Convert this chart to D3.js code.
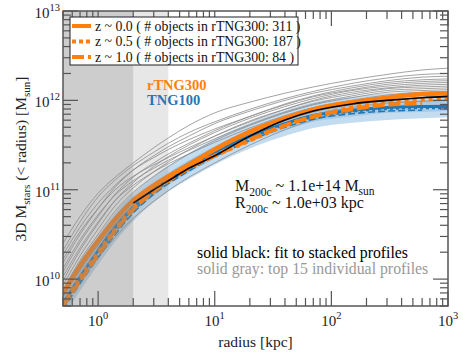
<!DOCTYPE html>
<html>
<head>
<meta charset="utf-8">
<script src="https://cdn.jsdelivr.net/npm/d3@7"></script>
<style>
  body { margin: 0; background: #fff; }
  svg { font-family: "Liberation Serif", "Times New Roman", serif; }
</style>
</head>
<body>
<svg width="463" height="358"></svg>
<script>
// radii shared by every profile [kpc]
var radii = [0.5, 0.7, 1, 1.4, 2, 3, 4, 6, 10, 20, 40, 70, 150, 300, 600, 1000];

// log10 of enclosed stellar mass
var orangeZ0  = [9.84, 10.15, 10.43, 10.67, 10.88, 11.05, 11.15, 11.28, 11.45, 11.65, 11.80, 11.90, 11.98, 12.03, 12.07, 12.08];
var orangeZ05 = [9.72, 10.02, 10.30, 10.56, 10.80, 11.00, 11.12, 11.25, 11.38, 11.55, 11.72, 11.82, 11.92, 11.98, 12.01, 12.02];
var orangeZ1  = [9.70, 9.98, 10.27, 10.54, 10.78, 10.98, 11.10, 11.24, 11.38, 11.56, 11.72, 11.82, 11.90, 11.95, 11.97, null];
var blueZ0    = [9.72, 10.02, 10.32, 10.58, 10.80, 11.00, 11.12, 11.26, 11.42, 11.60, 11.74, 11.83, 11.89, 11.92, 11.93, 11.93];
var blueZ05   = [9.68, 9.98, 10.27, 10.53, 10.76, 10.97, 11.09, 11.23, 11.39, 11.57, 11.72, 11.81, 11.87, 11.90, 11.91, 11.91];
var blueZ1    = [9.66, 9.95, 10.24, 10.50, 10.74, 10.95, 11.07, 11.21, 11.37, 11.55, 11.70, 11.79, 11.85, 11.88, 11.89, null];
var bandOuterLo = [9.57, 9.87, 10.16, 10.42, 10.65, 10.86, 10.98, 11.12, 11.28, 11.46, 11.60, 11.69, 11.75, 11.78, 11.80, 11.81];
var bandOuterHi = [9.90, 10.20, 10.48, 10.74, 10.96, 11.15, 11.27, 11.41, 11.57, 11.75, 11.89, 11.98, 12.04, 12.08, 12.10, 12.11];
var bandInnerLo = [9.65, 9.95, 10.24, 10.50, 10.73, 10.93, 11.05, 11.19, 11.35, 11.53, 11.67, 11.76, 11.82, 11.86, 11.87, 11.88];
var bandInnerHi = [9.81, 10.11, 10.40, 10.66, 10.88, 11.07, 11.19, 11.33, 11.49, 11.67, 11.81, 11.90, 11.96, 11.99, 12.00, 12.01];
var fitRadii = [2, 3, 4, 6, 10, 20, 40, 70, 150, 300, 600, 1000];
var fitBlack = [10.85, 11.00, 11.10, 11.24, 11.38, 11.60, 11.78, 11.88, 11.96, 12.00, 12.03, 12.045];

// top 15 individual profiles
var gray1  = [10.40, 10.70, 10.96, 11.14, 11.30, 11.47, 11.58, 11.72, 11.86, 11.98, 12.08, 12.15, 12.23, 12.29, 12.34, 12.36];
var gray2  = [10.32, 10.64, 10.92, 11.11, 11.27, 11.42, 11.52, 11.64, 11.76, 11.90, 12.02, 12.10, 12.19, 12.25, 12.29, 12.30];
var gray3  = [10.18, 10.50, 10.79, 11.03, 11.22, 11.38, 11.48, 11.60, 11.74, 11.88, 12.00, 12.08, 12.16, 12.22, 12.26, 12.27];
var gray4  = [10.27, 10.58, 10.85, 11.05, 11.22, 11.36, 11.45, 11.56, 11.68, 11.82, 11.96, 12.05, 12.14, 12.20, 12.23, 12.24];
var gray5  = [10.08, 10.41, 10.70, 10.95, 11.14, 11.30, 11.40, 11.52, 11.66, 11.82, 11.95, 12.04, 12.12, 12.18, 12.21, 12.22];
var gray6  = [9.98, 10.32, 10.62, 10.88, 11.08, 11.26, 11.37, 11.50, 11.64, 11.80, 11.93, 12.02, 12.11, 12.16, 12.19, 12.20];
var gray7  = [10.22, 10.53, 10.79, 11.00, 11.15, 11.28, 11.36, 11.47, 11.60, 11.76, 11.90, 12.00, 12.09, 12.14, 12.17, 12.18];
var gray8  = [9.93, 10.26, 10.56, 10.82, 11.02, 11.20, 11.31, 11.45, 11.60, 11.77, 11.90, 11.99, 12.07, 12.13, 12.15, 12.16];
var gray9  = [10.12, 10.44, 10.72, 10.94, 11.10, 11.24, 11.33, 11.44, 11.57, 11.73, 11.87, 11.96, 12.05, 12.11, 12.13, 12.14];
var gray10 = [9.88, 10.21, 10.50, 10.76, 10.97, 11.15, 11.26, 11.40, 11.55, 11.72, 11.86, 11.95, 12.03, 12.09, 12.11, 12.12];
var gray11 = [10.03, 10.35, 10.64, 10.88, 11.05, 11.20, 11.29, 11.40, 11.53, 11.69, 11.83, 11.92, 12.00, 12.06, 12.09, 12.10];
var gray12 = [9.85, 10.15, 10.43, 10.68, 10.88, 11.06, 11.17, 11.31, 11.47, 11.66, 11.81, 11.90, 11.98, 12.03, 12.06, 12.07];
var gray13 = [9.80, 10.10, 10.38, 10.62, 10.83, 11.02, 11.13, 11.27, 11.43, 11.62, 11.77, 11.87, 11.95, 12.00, 12.03, 12.04];
var gray14 = [9.75, 10.05, 10.32, 10.56, 10.77, 10.96, 11.08, 11.22, 11.38, 11.58, 11.74, 11.84, 11.92, 11.97, 11.99, 12.00];
var gray15 = [9.70, 9.98, 10.24, 10.47, 10.68, 10.87, 10.99, 11.14, 11.30, 11.50, 11.67, 11.78, 11.87, 11.92, 11.94, 11.95];
var grayProfiles = [gray1, gray2, gray3, gray4, gray5, gray6, gray7, gray8, gray9, gray10, gray11, gray12, gray13, gray14, gray15];

var legendLabels = ["z ~ 0.0 ( # objects in rTNG300: 311 )",
                    "z ~ 0.5 ( # objects in rTNG300: 187 )",
                    "z ~ 1.0 ( # objects in rTNG300: 84 )"];
var xTickExps = [0, 1, 2, 3];
var yTickExps = [10, 11, 12, 13];

var orange = "#ff7f0e", blue = "#1f77b4";

var svg = d3.select("svg");
var pLeft = 63, pRight = 448, pTop = 11, pBottom = 306;

var x = d3.scaleLog().domain([0.5, 1000]).range([pLeft, pRight]);
var y = d3.scaleLog().domain([5e9, 1e13]).range([pBottom, pTop]);

var plot = svg.append("g");
plot.append("clipPath").attr("id", "clip")
    .append("rect").attr("x", pLeft).attr("y", pTop)
    .attr("width", pRight - pLeft).attr("height", pBottom - pTop);
var inner = plot.append("g").attr("clip-path", "url(#clip)");

function line(rs) {
    return d3.line()
        .defined(function (d) { return d != null; })
        .x(function (d, i) { return x(rs[i]); })
        .y(function (d) { return y(Math.pow(10, d)); })
        .curve(d3.curveMonotoneX);
}

function band(lo, hi) {
    return d3.area()
        .x(function (d, i) { return x(radii[i]); })
        .y0(function (d, i) { return y(Math.pow(10, lo[i])); })
        .y1(function (d, i) { return y(Math.pow(10, hi[i])); })
        .curve(d3.curveMonotoneX)(lo);
}

// TNG100 scatter bands
inner.append("path").attr("d", band(bandOuterLo, bandOuterHi))
    .attr("fill", "#c4dcef");
inner.append("path").attr("d", band(bandInnerLo, bandInnerHi))
    .attr("fill", "#a9cae4");

// individual profiles
grayProfiles.forEach(function (p) {
    inner.append("path").attr("d", line(radii)(p))
        .attr("fill", "none").attr("stroke", "#8c8c8c").attr("stroke-width", 0.8);
});

// TNG100
inner.append("path").attr("d", line(radii)(blueZ1))
    .attr("fill", "none").attr("stroke", blue).attr("stroke-width", 1.6)
    .attr("stroke-dasharray", "7,3");
inner.append("path").attr("d", line(radii)(blueZ05))
    .attr("fill", "none").attr("stroke", blue).attr("stroke-width", 1.6)
    .attr("stroke-dasharray", "3,3");
inner.append("path").attr("d", line(radii)(blueZ0))
    .attr("fill", "none").attr("stroke", blue).attr("stroke-width", 3);

// rTNG300
inner.append("path").attr("d", line(radii)(orangeZ1))
    .attr("fill", "none").attr("stroke", orange).attr("stroke-width", 4)
    .attr("stroke-dasharray", "12,4");
inner.append("path").attr("d", line(radii)(orangeZ05))
    .attr("fill", "none").attr("stroke", orange).attr("stroke-width", 4)
    .attr("stroke-dasharray", "4,4");
inner.append("path").attr("d", line(radii)(orangeZ0))
    .attr("fill", "none").attr("stroke", orange).attr("stroke-width", 4.5);

// fit
inner.append("path").attr("d", line(fitRadii)(fitBlack))
    .attr("fill", "none").attr("stroke", "#000").attr("stroke-width", 1.6);

// resolution shading
inner.append("rect").attr("x", pLeft).attr("y", pTop)
    .attr("width", x(2) - pLeft).attr("height", pBottom - pTop)
    .attr("fill", "#888").attr("opacity", 0.42);
inner.append("rect").attr("x", x(2)).attr("y", pTop)
    .attr("width", x(4) - x(2)).attr("height", pBottom - pTop)
    .attr("fill", "#888").attr("opacity", 0.2);

// ticks on all four sides, pointing inward
var frame = "#555";
var ticks = svg.append("g").attr("stroke", frame).attr("stroke-width", 1.2);
function minorList(lo, hi) {
    var out = [];
    for (var e = lo; e <= hi; e++) {
        for (var m = 1; m < 10; m++) out.push({ v: m * Math.pow(10, e), major: m == 1 });
    }
    return out;
}
minorList(-1, 3).forEach(function (t) {
    if (t.v < 0.5 || t.v > 1000) return;
    var px = x(t.v), len = t.major ? 15 : 8;
    ticks.append("line").attr("x1", px).attr("x2", px).attr("y1", pBottom).attr("y2", pBottom - len);
    ticks.append("line").attr("x1", px).attr("x2", px).attr("y1", pTop).attr("y2", pTop + len);
});
minorList(9, 13).forEach(function (t) {
    if (t.v < 5e9 || t.v > 1e13) return;
    var py = y(t.v), len = t.major ? 15 : 8;
    ticks.append("line").attr("y1", py).attr("y2", py).attr("x1", pLeft).attr("x2", pLeft + len);
    ticks.append("line").attr("y1", py).attr("y2", py).attr("x1", pRight).attr("x2", pRight - len);
});

svg.append("rect").attr("x", pLeft).attr("y", pTop)
    .attr("width", pRight - pLeft).attr("height", pBottom - pTop)
    .attr("fill", "none").attr("stroke", frame).attr("stroke-width", 1.5);

// tick labels
xTickExps.forEach(function (e) {
    var t = svg.append("text").attr("x", x(Math.pow(10, e))).attr("y", 326)
        .attr("text-anchor", "middle").attr("font-size", 15).attr("fill", "#222");
    t.append("tspan").text("10");
    t.append("tspan").attr("dy", -7).attr("font-size", 10.5).text(e);
});
yTickExps.forEach(function (e) {
    var t = svg.append("text").attr("x", 60).attr("y", y(Math.pow(10, e)) + 7)
        .attr("text-anchor", "end").attr("font-size", 15).attr("fill", "#222");
    t.append("tspan").text("10");
    t.append("tspan").attr("dy", -7).attr("font-size", 10.5).text(e);
});

// axis titles
svg.append("text").attr("x", (pLeft + pRight) / 2).attr("y", 347)
    .attr("text-anchor", "middle").attr("font-size", 15.5).attr("fill", "#222")
    .text("radius [kpc]");
var yl = svg.append("text").attr("transform", "translate(26,159) rotate(-90)")
    .attr("text-anchor", "middle").attr("font-size", 15.5).attr("fill", "#222");
yl.append("tspan").text("3D M");
yl.append("tspan").attr("dy", 4).attr("font-size", 11).text("stars");
yl.append("tspan").attr("dy", -4).text(" (< radius) [M");
yl.append("tspan").attr("dy", 4).attr("font-size", 11).text("sun");
yl.append("tspan").attr("dy", -4).text("]");

// legend
var lg = svg.append("g");
lg.append("rect").attr("x", 70).attr("y", 17).attr("width", 228).attr("height", 48)
    .attr("fill", "#fff").attr("stroke", "#222").attr("stroke-width", 1);
var dashes = [null, "4,3", "12,4"];
legendLabels.forEach(function (s, i) {
    var ly = 26 + i * 15.5;
    lg.append("line").attr("x1", 72).attr("x2", 91).attr("y1", ly).attr("y2", ly)
        .attr("stroke", orange).attr("stroke-width", 4)
        .attr("stroke-dasharray", dashes[i]);
    lg.append("text").attr("x", 95).attr("y", ly + 4.5).attr("font-size", 13.8)
        .attr("fill", "#111").text(s);
});

// annotations
svg.append("text").attr("x", 147).attr("y", 90).attr("font-size", 14.5)
    .attr("font-weight", "bold").attr("fill", orange).text("rTNG300");
svg.append("text").attr("x", 147).attr("y", 105).attr("font-size", 14.5)
    .attr("font-weight", "bold").attr("fill", blue).text("TNG100");

var m = svg.append("text").attr("x", 235).attr("y", 191).attr("font-size", 16).attr("fill", "#111");
m.append("tspan").text("M");
m.append("tspan").attr("dy", 5).attr("font-size", 11.5).text("200c");
m.append("tspan").attr("dy", -5).text(" ~ 1.1e+14 M");
m.append("tspan").attr("dy", 4).attr("font-size", 11.5).text("sun");
var rr = svg.append("text").attr("x", 235).attr("y", 208).attr("font-size", 16).attr("fill", "#111");
rr.append("tspan").text("R");
rr.append("tspan").attr("dy", 5).attr("font-size", 11.5).text("200c");
rr.append("tspan").attr("dy", -5).text(" ~ 1.0e+03 kpc");

svg.append("text").attr("x", 197).attr("y", 258).attr("font-size", 15.8)
    .attr("fill", "#000").text("solid black: fit to stacked profiles");
svg.append("text").attr("x", 197).attr("y", 274).attr("font-size", 15.8)
    .attr("fill", "#999").text("solid gray: top 15 individual profiles");
</script>
</body>
</html>
